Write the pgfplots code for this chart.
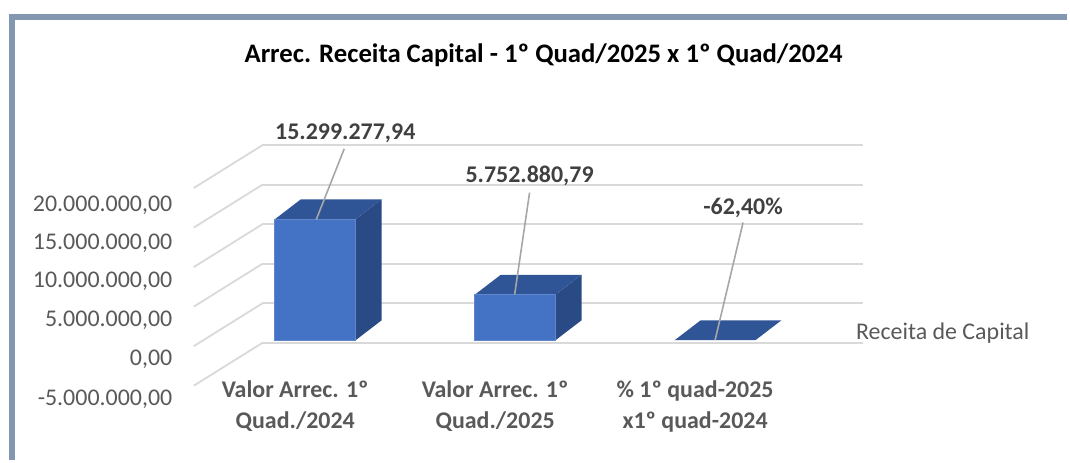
\documentclass[border=0pt]{standalone}
\usepackage{fontspec}
\setmainfont{Carlito}
\usepackage{pgfplots}
\pgfplotsset{compat=1.18}

\definecolor{frontblue}{HTML}{4472C4}
\definecolor{topblue}{HTML}{2F5597}
\definecolor{sideblue}{HTML}{2A4A85}
\definecolor{gridgray}{HTML}{D9D9D9}
\definecolor{textgray}{HTML}{595959}
\definecolor{labelgray}{HTML}{404040}
\definecolor{leadergray}{HTML}{A6A6A6}
\definecolor{framecol}{HTML}{8497B0}

\begin{document}
\begin{tikzpicture}
\begin{axis}[
  width=535pt, height=230.5pt, scale only axis,
  xmin=-1.5761, xmax=3.7606,
  ymin=-15.13, ymax=43.0,
  axis line style={draw=none},
  major tick length=0pt,
  clip=false,
  % categories (labels sit under the front edge of the floor)
  xtick={-0.1,0.9,1.9},
  xticklabels={{Valor Arrec. 1º\\Quad./2024},{Valor Arrec. 1º\\Quad./2025},{\% 1º quad-2025\\x1º quad-2024}},
  xticklabel style={font=\fontsize{12}{15.5}\selectfont\bfseries, text=textgray,
    align=center, anchor=center, yshift=26.8pt},
  % value axis, in millions
  ytick={-6.81,-1.77,3.15,8.07,12.86,17.65},
  yticklabels={{-5.000.000,00},{0,00},{5.000.000,00},{10.000.000,00},{15.000.000,00},{20.000.000,00}},
  yticklabel style={font=\fontsize{12}{14}\selectfont, text=textgray,
    anchor=east, inner xsep=0pt, xshift=86.5pt, yshift=-2.5pt},
]

% frame of the chart area
\draw[framecol, line width=3pt] (rel axis cs:0.01075,0) -- (rel axis cs:0.01075,0.9642) -- (rel axis cs:1,0.9642);

% back wall gridlines
\pgfplotsinvokeforeach{-0.33,4.67,9.67,14.67,19.67,24.67}{
  \draw[gridgray, line width=0.9pt] (axis cs:-0.264,#1) -- (axis cs:2.738,#1);
}
% side wall gridlines
\draw[gridgray, line width=0.9pt] (axis cs:-0.264,24.67) -- (axis cs:-0.608,19.243);
\draw[gridgray, line width=0.9pt] (axis cs:-0.264,19.67) -- (axis cs:-0.608,14.243);
\draw[gridgray, line width=0.9pt] (axis cs:-0.264,14.67) -- (axis cs:-0.608,9.243);
\draw[gridgray, line width=0.9pt] (axis cs:-0.264,9.67) -- (axis cs:-0.608,4.243);
\draw[gridgray, line width=0.9pt] (axis cs:-0.264,4.67) -- (axis cs:-0.608,-0.757);
\draw[gridgray, line width=0.9pt] (axis cs:-0.264,-0.33) -- (axis cs:-0.608,-5.757);

% ---- bar 1: 15.299.277,94
\addplot[fill=sideblue, draw=none] coordinates {(0.202,0) (0.332,2.52) (0.332,17.8193) (0.202,15.2993)} -- cycle;
\addplot[fill=topblue, draw=none] coordinates {(-0.202,15.2993) (0.202,15.2993) (0.332,17.8193) (-0.072,17.8193)} -- cycle;
\addplot[fill=frontblue, draw=frontblue!85!white, line width=0.4pt] coordinates {(-0.202,0) (0.202,0) (0.202,15.2993) (-0.202,15.2993)} -- cycle;

% ---- bar 2: 5.752.880,79
\addplot[fill=sideblue, draw=none] coordinates {(1.202,0) (1.332,2.52) (1.332,8.2729) (1.202,5.7529)} -- cycle;
\addplot[fill=topblue, draw=none] coordinates {(0.798,5.7529) (1.202,5.7529) (1.332,8.2729) (0.928,8.2729)} -- cycle;
\addplot[fill=frontblue, draw=frontblue!85!white, line width=0.4pt] coordinates {(0.798,0) (1.202,0) (1.202,5.7529) (0.798,5.7529)} -- cycle;

% ---- bar 3: -62,40% (plotted as -0,624, flat at this scale)
\addplot[fill=topblue, draw=none] coordinates {(1.798,-0.000000624) (2.202,-0.000000624) (2.332,2.519999376) (1.928,2.519999376)} -- cycle;

% leader lines and data labels
\draw[leadergray, line width=0.8pt] (axis cs:0.145,24.21) -- (axis cs:0.005,15.26);
\draw[leadergray, line width=0.8pt] (axis cs:1.072,18.66) -- (axis cs:0.9975,5.80);
\draw[leadergray, line width=0.8pt] (axis cs:2.14,14.88) -- (axis cs:2.0,0);
\node[font=\fontsize{12}{14}\selectfont\bfseries, text=labelgray] at (axis cs:0.15,26.2) {15.299.277,94};
\node[font=\fontsize{12}{14}\selectfont\bfseries, text=labelgray] at (axis cs:1.072,20.77) {5.752.880,79};
\node[font=\fontsize{12}{14}\selectfont\bfseries, text=labelgray] at (axis cs:2.14,16.74) {-62,40\%};

% series name
\node[anchor=west, inner xsep=0pt, font=\fontsize{12}{14}\selectfont, text=textgray] at (axis cs:2.703,0.88) {Receita de Capital};

% title
\node[font=\fontsize{13.4}{15}\selectfont\bfseries] at (axis cs:1.142,36.0) {Arrec. Receita Capital - 1º Quad/2025 x 1º Quad/2024};
\end{axis}
\end{tikzpicture}
\end{document}
